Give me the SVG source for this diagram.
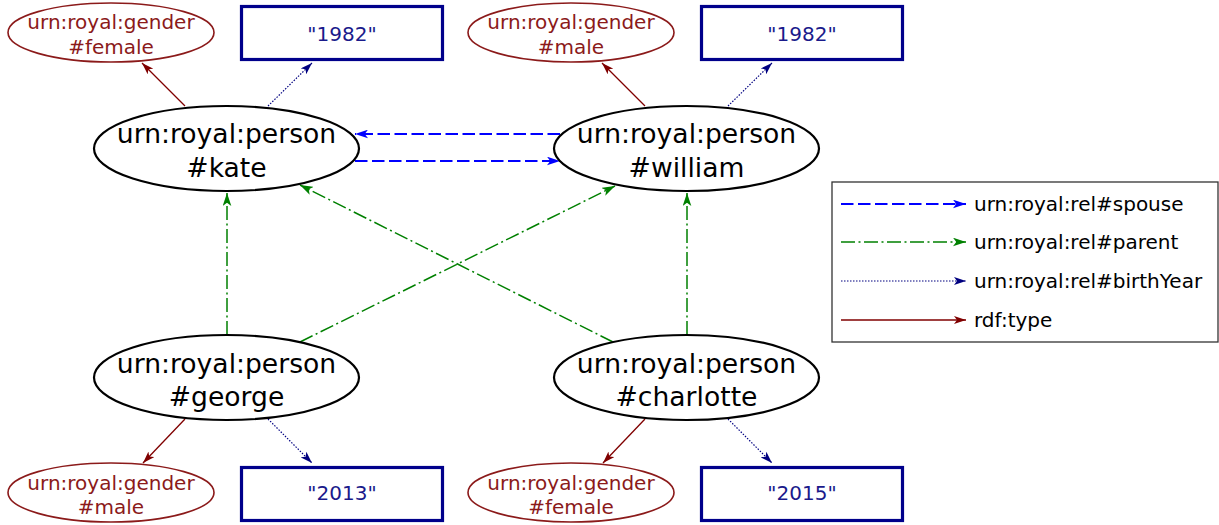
<svg xmlns="http://www.w3.org/2000/svg" width="1219" height="525" viewBox="0 0 1219 525">
<style>
text{font-family:"DejaVu Sans","Liberation Sans",sans-serif;text-anchor:middle}
.person{fill:#fff;stroke:#000;stroke-width:2.2}
.ptext{font-size:26.6px;fill:#000}
.gender{fill:#fff;stroke:#8b1a1a;stroke-width:1.6}
.gtext{font-size:20px;fill:#8b1a1a}
.year{fill:#fff;stroke:#00008b;stroke-width:3.2}
.ytext{font-size:20px;fill:#1a1a8b}
.spouse{stroke:#0000ff;stroke-width:1.8;fill:none;stroke-dasharray:12.5,4.5;marker-end:url(#aBlue)}
.parent{stroke:#008000;stroke-width:1.5;fill:none;stroke-dasharray:14,3.5,2,3.5;marker-end:url(#aGreen)}
.birth{stroke:#000080;stroke-width:1.2;fill:none;stroke-dasharray:1.5,1.5;marker-end:url(#aNavy)}
.type{stroke:#800000;stroke-width:1.3;fill:none;marker-end:url(#aRed)}
.ltext{font-size:20px;fill:#000;text-anchor:start}
</style>
<defs>
<marker id="aBlue" markerUnits="userSpaceOnUse" viewBox="0 0 12 8" refX="12" refY="4" markerWidth="13" markerHeight="9" orient="auto"><path d="M0,0 L12,4 L0,8 L3,4 z" fill="#0000ff"/></marker>
<marker id="aGreen" markerUnits="userSpaceOnUse" viewBox="0 0 12 8" refX="12" refY="4" markerWidth="13" markerHeight="9" orient="auto"><path d="M0,0 L12,4 L0,8 L3,4 z" fill="#008000"/></marker>
<marker id="aNavy" markerUnits="userSpaceOnUse" viewBox="0 0 12 8" refX="12" refY="4" markerWidth="12" markerHeight="8" orient="auto"><path d="M0,0 L12,4 L0,8 L3,4 z" fill="#000080"/></marker>
<marker id="aRed" markerUnits="userSpaceOnUse" viewBox="0 0 12 8" refX="12" refY="4" markerWidth="12" markerHeight="8" orient="auto"><path d="M0,0 L12,4 L0,8 L3,4 z" fill="#800000"/></marker>
</defs>
<rect width="1219" height="525" fill="#fff"/>
<g id="connectors">
<line class="type" x1="185" y1="106" x2="142" y2="63"/>
<line class="birth" x1="268" y1="106" x2="312" y2="63"/>
<line class="type" x1="645" y1="106" x2="602" y2="63"/>
<line class="birth" x1="728" y1="106" x2="772" y2="63"/>
<line class="spouse" x1="560" y1="134" x2="355" y2="134"/>
<line class="spouse" x1="355" y1="161" x2="560" y2="161"/>
<line class="parent" x1="227" y1="335" x2="227" y2="193"/>
<line class="parent" x1="687" y1="335" x2="687" y2="193"/>
<line class="parent" x1="300" y1="342" x2="615" y2="186"/>
<line class="parent" x1="613" y1="342" x2="300" y2="185"/>
<line class="type" x1="185" y1="419" x2="143" y2="463"/>
<line class="birth" x1="268" y1="419" x2="312" y2="463"/>
<line class="type" x1="645" y1="419" x2="603" y2="463"/>
<line class="birth" x1="728" y1="419" x2="772" y2="463"/>
</g>
<g id="kate"><ellipse class="person" cx="226.5" cy="148.5" rx="132.5" ry="42.5"/><text class="ptext" x="226.5" y="143">urn:royal:person</text><text class="ptext" x="226.5" y="177">#kate</text></g>
<g id="william"><ellipse class="person" cx="686.5" cy="148.5" rx="132.5" ry="42.5"/><text class="ptext" x="686.5" y="143">urn:royal:person</text><text class="ptext" x="686.5" y="177">#william</text></g>
<g id="george"><ellipse class="person" cx="226.5" cy="377.5" rx="132.5" ry="42.5"/><text class="ptext" x="226.5" y="372.5">urn:royal:person</text><text class="ptext" x="226.5" y="406">#george</text></g>
<g id="charlotte"><ellipse class="person" cx="686.5" cy="377.5" rx="132.5" ry="42.5"/><text class="ptext" x="686.5" y="372.5">urn:royal:person</text><text class="ptext" x="686.5" y="406">#charlotte</text></g>
<g id="kate-gender"><ellipse class="gender" cx="111" cy="32.5" rx="103" ry="29.5"/><text class="gtext" x="111" y="29">urn:royal:gender</text><text class="gtext" x="111" y="54">#female</text></g>
<g id="william-gender"><ellipse class="gender" cx="571" cy="32.5" rx="103" ry="29.5"/><text class="gtext" x="571" y="29">urn:royal:gender</text><text class="gtext" x="571" y="54">#male</text></g>
<g id="george-gender"><ellipse class="gender" cx="111" cy="492.5" rx="103" ry="29.5"/><text class="gtext" x="111" y="490">urn:royal:gender</text><text class="gtext" x="111" y="514">#male</text></g>
<g id="charlotte-gender"><ellipse class="gender" cx="571" cy="492.5" rx="103" ry="29.5"/><text class="gtext" x="571" y="490">urn:royal:gender</text><text class="gtext" x="571" y="514">#female</text></g>
<g id="kate-year"><rect class="year" x="241.5" y="6.5" width="201" height="53"/><text class="ytext" x="342" y="41">"1982"</text></g>
<g id="william-year"><rect class="year" x="701.5" y="6.5" width="201" height="53"/><text class="ytext" x="802" y="41">"1982"</text></g>
<g id="george-year"><rect class="year" x="241.5" y="467.5" width="201" height="53"/><text class="ytext" x="342" y="500">"2013"</text></g>
<g id="charlotte-year"><rect class="year" x="701.5" y="467.5" width="201" height="53"/><text class="ytext" x="802" y="500">"2015"</text></g>
<g id="legend">
<rect x="832" y="182" width="386" height="160" fill="#fff" stroke="#333" stroke-width="1.3"/>
<line class="spouse" x1="841" y1="204" x2="966" y2="204"/>
<line class="parent" x1="841" y1="242" x2="966" y2="242"/>
<line class="birth" x1="841" y1="281" x2="966" y2="281"/>
<line class="type" x1="841" y1="320" x2="966" y2="320"/>
<text class="ltext" x="974" y="211">urn:royal:rel#spouse</text>
<text class="ltext" x="974" y="249">urn:royal:rel#parent</text>
<text class="ltext" x="974" y="288">urn:royal:rel#birthYear</text>
<text class="ltext" x="974" y="327">rdf:type</text>
</g>
</svg>
